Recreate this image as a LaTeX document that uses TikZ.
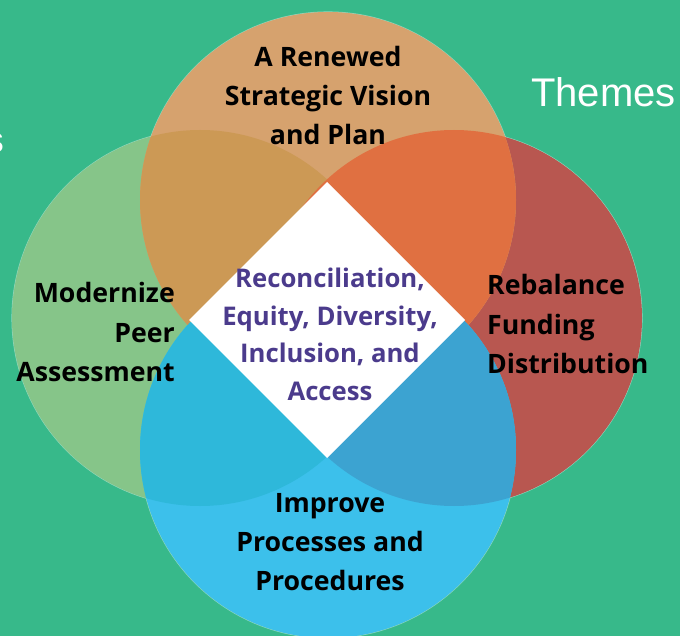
\documentclass[tikz,border=0pt]{standalone}
\usepackage{fontspec}
\IfFontExistsTF{NotoSans-Bold.ttf}{%
  \setmainfont{NotoSans}[Extension=.ttf, UprightFont=*-Regular, BoldFont=*-Bold]}{%
  \IfFontExistsTF{Open Sans Bold}{%
    \setmainfont{Open Sans}[BoldFont={Open Sans Bold}]}{%
    \IfFontExistsTF{OpenSans-Bold.ttf}{%
      \setmainfont{OpenSans}[Extension=.ttf, UprightFont=*-Regular, BoldFont=*-Bold]}{%
      \setmainfont{Lato}}}}
\newfontfamily\themefont{Liberation Sans}
\definecolor{bgc}{HTML}{37B98A}
\definecolor{topc}{HTML}{D6A26E}
\definecolor{leftc}{HTML}{86C589}
\definecolor{rightc}{HTML}{B85750}
\definecolor{botc}{HTML}{3CC0EB}
\definecolor{tlc}{HTML}{CC9955}
\definecolor{trc}{HTML}{E07041}
\definecolor{blc}{HTML}{2EB8DA}
\definecolor{brc}{HTML}{3CA3D1}
\definecolor{purp}{HTML}{4B3B8C}
\tikzset{
  lbl/.style={font=\bfseries\fontsize{26.7}{39}\selectfont, inner sep=0pt, text=black},
  ctrlbl/.style={font=\bfseries\fontsize{25.7}{37.5}\selectfont, inner sep=0pt, text=purp, align=center},
  rim/.style={draw=white, draw opacity=0.45, line width=1.1pt},
  wtext/.style={text=white, inner sep=0pt},
}
\begin{document}
\begin{tikzpicture}[x=1pt,y=-1pt]
\useasboundingbox (0,0) rectangle (680,636);
\clip (0,0) rectangle (680,636);
\fill[bgc] (0,0) rectangle (680,636);
\coordinate (T) at (328,200);
\coordinate (L) at (200,318);
\coordinate (R) at (454,318);
\coordinate (B) at (328,450);
% rims
\foreach \c in {T,L,R,B} \draw[rim] (\c) circle[radius=188pt];
% single circles
\fill[leftc] (L) circle[radius=188pt];
\fill[rightc] (R) circle[radius=188pt];
\fill[topc] (T) circle[radius=188pt];
\fill[botc] (B) circle[radius=188pt];
% overlaps
\begin{scope}\clip (T) circle[radius=188pt]; \fill[tlc] (L) circle[radius=188pt]; \end{scope}
\begin{scope}\clip (T) circle[radius=188pt]; \fill[trc] (R) circle[radius=188pt]; \end{scope}
\begin{scope}\clip (B) circle[radius=188pt]; \fill[blc] (L) circle[radius=188pt]; \end{scope}
\begin{scope}\clip (B) circle[radius=188pt]; \fill[brc] (R) circle[radius=188pt]; \end{scope}
% diamond
\coordinate (dn) at (327,182);
\coordinate (dw) at (189,320);
\coordinate (de) at (465,320);
\coordinate (ds) at (327,458);
\fill[white] (dn) -- (de) -- (ds) -- (dw) -- cycle;
% labels
\node[lbl, align=center, anchor=base] (toplbl) at (328,145) {A Renewed\\Strategic Vision\\and Plan};
\node[lbl, align=right, anchor=base east] (leftlbl) at (175,381) {Modernize\\Peer\\Assessment};
\node[lbl, align=left, anchor=base west] (rightlbl) at (487,373) {Rebalance\\Funding\\Distribution};
\node[lbl, align=center, anchor=base] (botlbl) at (330,590) {Improve\\Processes and\\Procedures};
\node[ctrlbl, anchor=base] (ctr) at (330,400) {Reconciliation,\\Equity, Diversity,\\Inclusion, and\\Access};
\node[wtext, anchor=base west, font=\themefont\fontsize{40}{40}\selectfont] (themes) at (531,107) {Themes};
\node[wtext, anchor=base east, font=\themefont\fontsize{36}{36}\selectfont] (cut) at (4,153) {s};
\end{tikzpicture}
\end{document}
